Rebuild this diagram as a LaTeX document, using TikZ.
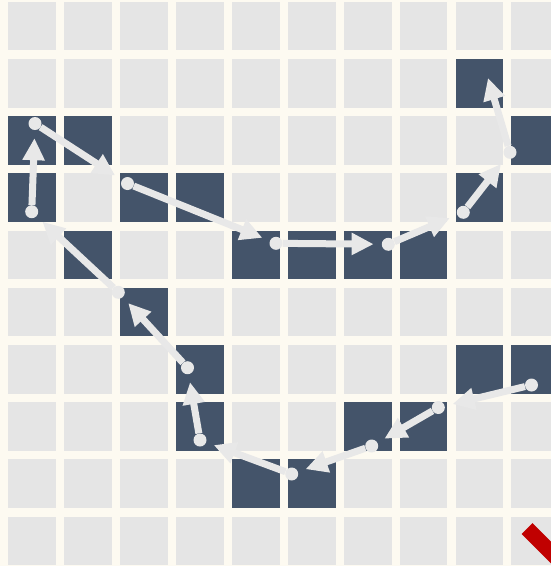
\documentclass[tikz,border=0pt]{standalone}
\usetikzlibrary{arrows.meta}
\definecolor{bg}{HTML}{FDFAF1}
\definecolor{cellL}{HTML}{E5E5E5}
\definecolor{cellD}{HTML}{44546A}
\definecolor{pathc}{HTML}{E8E8E8}
\definecolor{redc}{HTML}{C00000}
\begin{document}
\begin{tikzpicture}[x=1pt,y=-1pt,
  lightcell/.style={fill=cellL},
  darkcell/.style={fill=cellD},
  dot/.style={circle,fill=pathc,minimum size=13pt,inner sep=0pt},
  arr/.style={draw=pathc,line width=7pt,-{Triangle[length=22pt,width=21pt]},shorten >=8pt}]
\useasboundingbox (0,0) rectangle (551,566);
\clip (0,0) rectangle (551,566);
\fill[bg] (0,0) rectangle (551,566);
\foreach \i in {0,...,9}
  \foreach \j in {0,...,9}
    \fill[lightcell] ({8.3+55.9*\i},{1.7+57.2*\j}) rectangle ++(47.8,48.6);
\foreach \i/\j in {8/1,0/2,1/2,9/2,0/3,2/3,3/3,8/3,1/4,4/4,5/4,6/4,7/4,2/5,3/6,8/6,9/6,3/7,6/7,7/7,4/8,5/8}
    \fill[darkcell] ({8.3+55.9*\i},{1.7+57.2*\j}) rectangle ++(47.8,48.6);
% red bar
\fill[redc] (521.7,534) -- (532.5,523.2) -- (592.5,583.2) -- (581.7,594) -- cycle;
% path points
\node[dot] (A) at (531.5,385) {};
\node[dot] (B) at (438.3,407.5) {};
\node[dot] (C) at (371.7,446) {};
\node[dot] (D) at (291.7,474) {};
\node[dot] (E) at (200,440) {};
\node[dot] (F) at (187.5,367.7) {};
\node[dot] (G) at (118.3,292.3) {};
\node[dot] (H) at (31.7,211.7) {};
\node[dot] (I) at (35,123.5) {};
\node[dot] (J) at (127.5,183.5) {};
\node[dot] (K) at (276,243.3) {};
\node[dot] (L) at (388.3,244.3) {};
\node[dot] (M) at (463.3,212.3) {};
\node[dot] (N) at (510,152.3) {};
\coordinate (T) at (488,78);
\draw[arr] (A) -- (B);
\draw[arr] (B) -- (C);
\draw[arr] (C) -- (D);
\draw[arr] (D) -- (E);
\draw[arr] (E) -- (F);
\draw[arr] (F) -- (G);
\draw[arr] (G) -- (H);
\draw[arr] (H) -- (I);
\draw[arr] (I) -- (J);
\draw[arr] (J) -- (K);
\draw[arr] (K) -- (L);
\draw[arr] (L) -- (M);
\draw[arr] (M) -- (N);
\draw[arr,shorten >=0pt] (N) -- (T);
\end{tikzpicture}
\end{document}
